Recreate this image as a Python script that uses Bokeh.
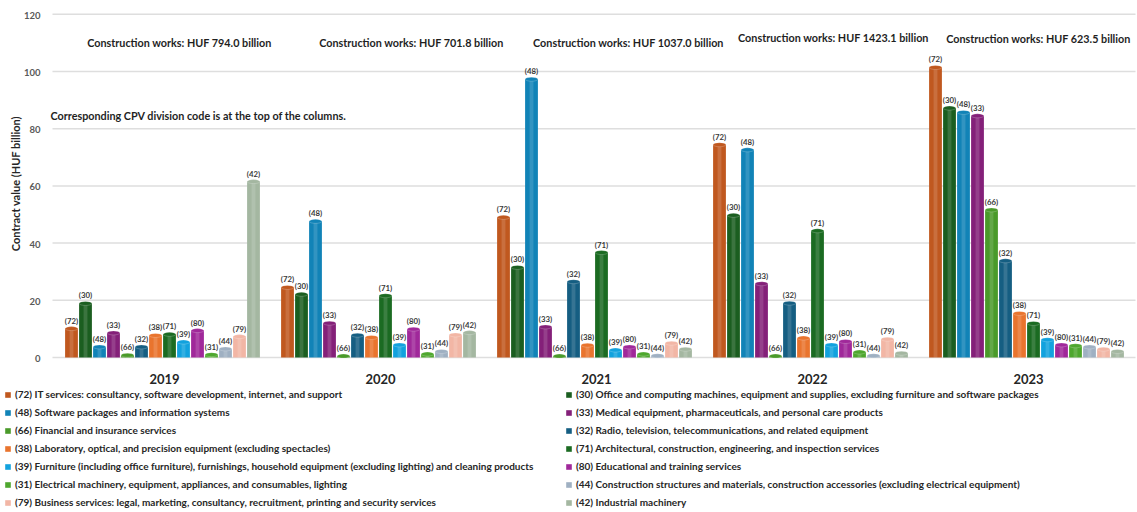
import math
from bokeh.plotting import figure
from bokeh.models import (ColumnDataSource, Range1d, Legend, LegendItem, Label)
from bokeh.core.properties import value
from bokeh.embed import file_html
from bokeh.resources import INLINE

# ---------------- data ----------------
years = ["2019", "2020", "2021", "2022", "2023"]
construction_works = [794.0, 701.8, 1037.0, 1423.1, 623.5]

y_ticks = [0, 20, 40, 60, 80, 100, 120]
y_tick_labels = ["0", "20", "40", "60", "80", "100", "120"]

codes = ["72", "30", "48", "33", "66", "32", "38", "71", "39", "80", "31", "44", "79", "42"]

v72 = [10.1, 24.5, 49.0, 74.4, 101.4]
v30 = [18.9, 22.1, 31.5, 49.7, 87.2]
v48 = [3.7, 47.6, 97.3, 72.6, 85.7]
v33 = [8.6, 12.0, 10.7, 25.8, 84.5]
v66 = [0.8, 0.5, 0.5, 0.5, 51.6]
v32 = [3.7, 7.8, 26.5, 19.0, 33.8]
v38 = [7.7, 7.0, 4.3, 6.8, 15.4]
v71 = [8.1, 21.6, 36.7, 44.3, 11.9]
v39 = [5.4, 4.4, 2.6, 4.4, 6.2]
v80 = [9.4, 9.9, 3.7, 5.6, 4.4]
v31 = [1.0, 1.2, 1.2, 1.9, 4.1]
v44 = [3.0, 2.1, 0.6, 0.6, 3.7]
v79 = [7.3, 7.9, 5.0, 6.4, 2.9]
v42 = [61.5, 8.7, 2.9, 1.5, 2.1]

series = {"72": v72, "30": v30, "48": v48, "33": v33, "66": v66, "32": v32, "38": v38,
          "71": v71, "39": v39, "80": v80, "31": v31, "44": v44, "79": v79, "42": v42}

labels = {
    "72": "(72) IT services: consultancy, software development, internet, and support",
    "48": "(48) Software packages and information systems",
    "66": "(66) Financial and insurance services",
    "38": "(38) Laboratory, optical, and precision equipment (excluding spectacles)",
    "39": "(39) Furniture (including office furniture), furnishings, household equipment (excluding lighting) and cleaning products",
    "31": "(31) Electrical machinery, equipment, appliances, and consumables, lighting",
    "79": "(79) Business services: legal, marketing, consultancy, recruitment, printing and security services",
    "30": "(30) Office and computing machines, equipment and supplies, excluding furniture and software packages",
    "33": "(33) Medical equipment, pharmaceuticals, and personal care products",
    "32": "(32) Radio, television, telecommunications, and related equipment",
    "71": "(71) Architectural, construction, engineering, and inspection services",
    "80": "(80) Educational and training services",
    "44": "(44) Construction structures and materials, construction accessories (excluding electrical equipment)",
    "42": "(42) Industrial machinery",
}
left_col = ["72", "48", "66", "38", "39", "31", "79"]
right_col = ["30", "33", "32", "71", "80", "44", "42"]

# ---------------- styles ----------------
colors = {"72": "#C0581F", "30": "#1B5E20", "48": "#1183B7", "33": "#842079",
          "66": "#4A9A2A", "32": "#155E82", "38": "#E9742E", "71": "#1B6B22",
          "39": "#12A2DE", "80": "#A0289A", "31": "#4EA72E", "44": "#9FB0C2",
          "79": "#F2B6A5", "42": "#A4B7A1"}

FONT = "Lato"
W, H = 1136, 511
px_per_unit = 2.86
zero_y = 357  # canvas px of value 0
y_start = (zero_y - H) / px_per_unit
y_end = zero_y / px_per_unit
group_px = 216.0
x_start = -(162.0 / group_px)
x_end = x_start + W / group_px
slot = 14.0 / group_px
bar_w = 12.8 / group_px

def dx(px):  # canvas px -> data x
    return x_start + px / group_px

p = figure(width=W, height=H, output_backend="svg", toolbar_location=None,
           x_range=Range1d(x_start, x_end), y_range=Range1d(y_start, y_end),
           x_axis_location=None, y_axis_location=None)
p.min_border = 0
p.outline_line_color = None
p.background_fill_color = "white"
p.border_fill_color = "white"
p.xgrid.visible = False
p.ygrid.visible = False

# grid lines and tick labels
gsrc = ColumnDataSource(dict(y=y_ticks, t=y_tick_labels,
                             x0=[dx(52)] * len(y_ticks), x1=[dx(1135)] * len(y_ticks),
                             xl=[dx(40)] * len(y_ticks)))
p.segment(x0="x0", x1="x1", y0="y", y1="y", source=gsrc, line_color="#DEDEDE", line_width=1.5)
p.text(x="xl", y="y", text="t", source=gsrc, text_align="right", text_baseline="middle",
       y_offset=1, text_font=value(FONT), text_font_style="bold", text_font_size="9.5px",
       text_color="#595959")

renderers = {}
for k, code in enumerate(codes):
    vals = series[code]
    xs = [i + (k - 6.5) * slot for i in range(len(years))]
    src = ColumnDataSource(dict(x=xs, top=vals, lab=["(%s)" % code] * len(vals)))
    r = p.vbar(x="x", top="top", bottom=0, width=bar_w, source=src,
               fill_color=colors[code], line_color=None)
    # cylinder highlight
    p.vbar(x="x", top="top", bottom=0, width=bar_w * 0.3, source=src,
           fill_color="white", fill_alpha=0.14, line_color=None)
    p.ellipse(x="x", y="top", width=bar_w, height=4, height_units="screen", source=src,
              fill_color=colors[code], line_color="white", line_alpha=0.35, line_width=0.6)
    p.text(x="x", y="top", text="lab", source=src, text_align="center",
           text_baseline="bottom", y_offset=-3, text_font=value(FONT),
           text_font_style="bold", text_font_size="7.8px", text_color="#3A3A3A")
    renderers[code] = r

# year labels
ysrc = ColumnDataSource(dict(x=list(range(len(years))),
                             y=[(zero_y - 378) / px_per_unit] * len(years), t=years))
p.text(x="x", y="y", text="t", source=ysrc, text_align="center", text_baseline="middle",
       x_offset=2, text_font=value(FONT), text_font_style="bold", text_font_size="13px",
       text_color="#262626")

# construction works annotations
cw_pos = [(179, 42), (411, 42), (628, 42), (833, 37), (1038, 38)]
for (px, py), cw in zip(cw_pos, construction_works):
    p.add_layout(Label(x=px, y=H - py, x_units="screen", y_units="screen",
                       text="Construction works: HUF %.1f billion" % cw, text_align="center",
                       text_baseline="middle", text_font=FONT, text_font_style="bold",
                       text_font_size="10.8px", text_color="#1F1F1F"))

p.add_layout(Label(x=50, y=H - 115, x_units="screen", y_units="screen",
                   text="Corresponding CPV division code is at the top of the columns.",
                   text_align="left", text_baseline="middle", text_font=FONT,
                   text_font_style="bold", text_font_size="10.8px", text_color="#1F1F1F"))

# y axis title
p.add_layout(Label(x=15, y=H - 183, x_units="screen", y_units="screen",
                   text="Contract value (HUF billion)", angle=math.pi / 2,
                   text_align="center", text_baseline="middle", text_font=FONT,
                   text_font_style="bold", text_font_size="11px", text_color="#262626"))

def make_legend(col, vx):
    leg = Legend(items=[LegendItem(label=labels[c], renderers=[renderers[c]]) for c in col],
                 location=(vx, 3), orientation="vertical")
    leg.label_text_font = FONT
    leg.label_text_font_style = "bold"
    leg.label_text_font_size = "10px"
    leg.label_text_color = "#262626"
    leg.glyph_width = 7
    leg.glyph_height = 7
    leg.label_height = 12
    leg.label_standoff = 4
    leg.spacing = 6
    leg.padding = 0
    leg.margin = 0
    leg.border_line_color = None
    leg.background_fill_alpha = 0
    return leg

p.add_layout(make_legend(left_col, 4))
p.add_layout(make_legend(right_col, 565))

open("out.html", "w").write(file_html(p, INLINE))
